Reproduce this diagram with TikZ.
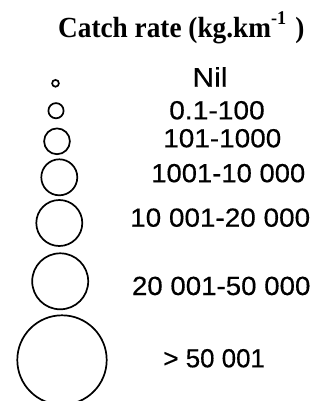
\documentclass[tikz,border=0pt]{standalone}
\usepackage{fontspec}
\usepackage{graphicx}
\newfontfamily\labfont[FakeBold=0.4]{Liberation Sans}
\newfontfamily\ttlfont{Liberation Serif}
% a class label fitted to a given width and digit height
\newcommand\fitlab[3][18.3]{\resizebox{#2bp}{#1bp}{\labfont #3}}

\begin{document}
\begin{tikzpicture}[x=1bp,y=-1bp,
  ring/.style={draw, circle, line width=1.7bp, inner sep=0pt},
  lab/.style={anchor=base, inner sep=0pt}]
\useasboundingbox (0,0) rectangle (323,401);
\clip (0,0) rectangle (323,401);

% heading
\node[anchor=base west, inner sep=0pt] (title) at (58,37.3)
  {\scalebox{1.01}[1.08]{\fontsize{27bp}{30bp}\selectfont\ttlfont\bfseries Catch rate (kg.km\raisebox{12bp}{\fontsize{18bp}{18bp}\selectfont -1}\hspace{9bp})}};

% proportional symbols
\node[ring, minimum size=6.8bp]  (c1) at (55.5,83.3) {};
\node[ring, minimum size=15.2bp] (c2) at (56,110.7) {};
\node[ring, minimum size=25.8bp] (c3) at (57,141.3) {};
\node[ring, minimum size=36bp]   (c4) at (59.3,177.3) {};
\node[ring, minimum size=46bp]   (c5) at (59.3,223) {};
\node[ring, minimum size=56bp]   (c6) at (60.2,281.3) {};
\node[ring, minimum size=89.4bp] (c7) at (62,360) {};

% class labels
\node[lab] (l1) at (210,86.7)    {\fitlab[19.5]{35}{Nil}};
\node[lab] (l2) at (217,119.3)   {\fitlab{95.5}{0.1-100}};
\node[lab] (l3) at (222.3,147.3) {\fitlab{118}{101-1000}};
\node[lab] (l4) at (228.3,182.2) {\fitlab{154}{1001-10 000}};
\node[lab] (l5) at (220.2,226.7) {\fitlab{180}{10 001-20 000}};
\node[lab] (l6) at (221.2,295)   {\fitlab{178.5}{20 001-50 000}};
\node[lab] (l7) at (214.2,367.3) {\fitlab{101.5}{> 50 001}};
\end{tikzpicture}
\end{document}
